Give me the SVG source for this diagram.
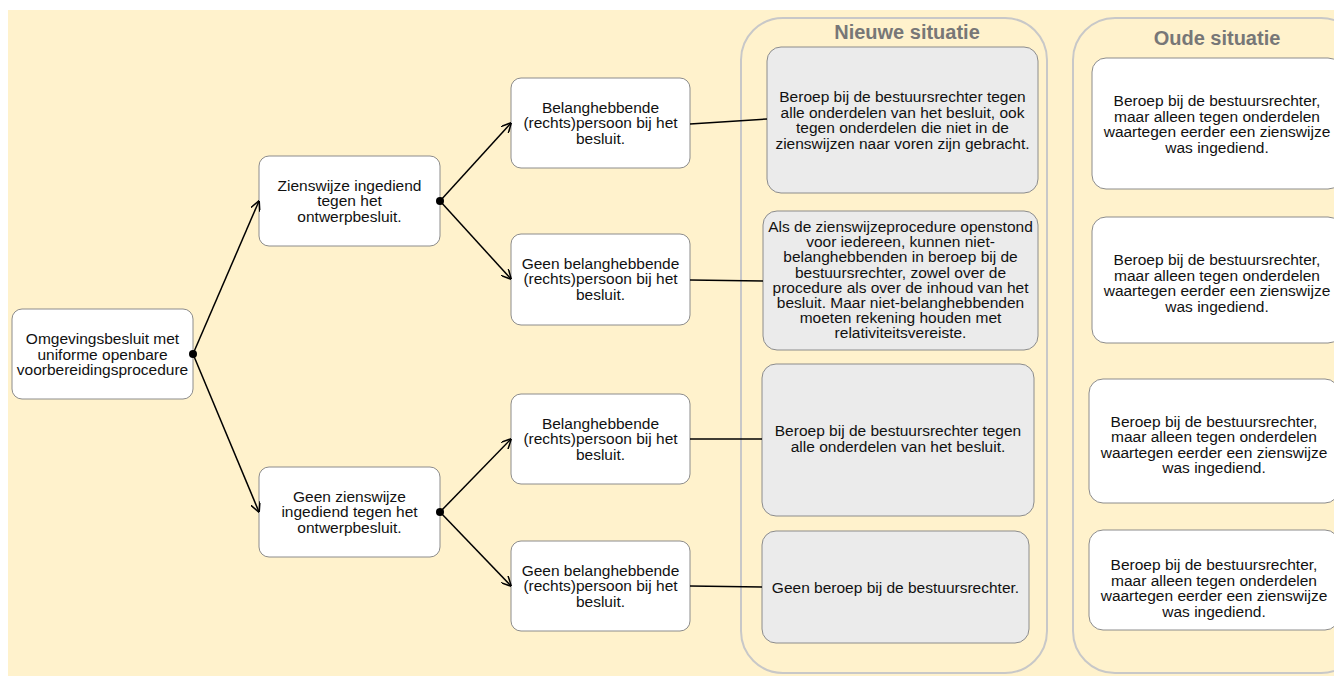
<svg xmlns="http://www.w3.org/2000/svg" width="1334" height="676" viewBox="0 0 1334 676">
<defs>
<style>
.node{fill:#ffffff;stroke:#8c8c8c;stroke-width:1}
.gray{fill:#ebebeb;stroke:#8c8c8c;stroke-width:1}
.cont{fill:none;stroke:#c8c8c8;stroke-width:2}
text{font-family:"Liberation Sans",Arial,sans-serif;font-size:15.5px;fill:#111111;text-anchor:middle}
.title{font-size:20px;font-weight:bold;fill:#777777}
.conn{stroke:#000000;stroke-width:1.5;fill:none}
</style>
<marker id="arr" viewBox="0 0 10 10" refX="9.5" refY="5" markerWidth="10" markerHeight="10" markerUnits="userSpaceOnUse" orient="auto">
<path d="M0,0 L10,5 L0,10" fill="none" stroke="#000" stroke-width="1.5"/>
</marker>
</defs>
<rect x="8" y="10" width="1326" height="666" fill="#fff2cc"/>

<g id="container-nieuw">
<rect class="cont" x="741" y="18" width="306" height="655" rx="42"/>
<text class="title" x="907" y="39">Nieuwe situatie</text>
</g>
<g id="container-oud">
<rect class="cont" x="1073" y="18" width="290" height="655" rx="42"/>
<text class="title" x="1217" y="45">Oude situatie</text>
</g>

<g id="root">
<rect class="node" x="12" y="309" width="181" height="90" rx="10"/>
<text x="102.5" y="344">Omgevingsbesluit met</text>
<text x="102.5" y="359.5">uniforme openbare</text>
<text x="102.5" y="375">voorbereidingsprocedure</text>
</g>

<g id="zienswijze">
<rect class="node" x="259" y="156" width="181" height="90" rx="10"/>
<text x="349.5" y="190.5">Zienswijze ingediend</text>
<text x="349.5" y="206">tegen het</text>
<text x="349.5" y="221.5">ontwerpbesluit.</text>
</g>

<g id="geen-zienswijze">
<rect class="node" x="259" y="467" width="181" height="90" rx="10"/>
<text x="349.5" y="501.5">Geen zienswijze</text>
<text x="349.5" y="517">ingediend tegen het</text>
<text x="349.5" y="532.5">ontwerpbesluit.</text>
</g>

<g id="belang-1">
<rect class="node" x="511" y="78" width="179" height="90" rx="10"/>
<text x="600.5" y="112.5">Belanghebbende</text>
<text x="600.5" y="128">(rechts)persoon bij het</text>
<text x="600.5" y="143.5">besluit.</text>
</g>

<g id="geenbelang-1">
<rect class="node" x="511" y="234" width="179" height="91" rx="10"/>
<text x="600.5" y="268.5">Geen belanghebbende</text>
<text x="600.5" y="284">(rechts)persoon bij het</text>
<text x="600.5" y="299.5">besluit.</text>
</g>

<g id="belang-2">
<rect class="node" x="511" y="394" width="179" height="90" rx="10"/>
<text x="600.5" y="428.5">Belanghebbende</text>
<text x="600.5" y="444">(rechts)persoon bij het</text>
<text x="600.5" y="459.5">besluit.</text>
</g>

<g id="geenbelang-2">
<rect class="node" x="511" y="541" width="179" height="90" rx="10"/>
<text x="600.5" y="575.5">Geen belanghebbende</text>
<text x="600.5" y="591">(rechts)persoon bij het</text>
<text x="600.5" y="606.5">besluit.</text>
</g>

<g id="nieuw-1">
<rect class="gray" x="767" y="47" width="271" height="146" rx="14"/>
<text x="902.5" y="102">Beroep bij de bestuursrechter tegen</text>
<text x="902.5" y="117.5">alle onderdelen van het besluit, ook</text>
<text x="902.5" y="133">tegen onderdelen die niet in de</text>
<text x="902.5" y="148.5">zienswijzen naar voren zijn gebracht.</text>
</g>

<g id="nieuw-2">
<rect class="gray" x="763" y="211" width="275" height="139" rx="14"/>
<text x="900.5" y="232">Als de zienswijzeprocedure openstond</text>
<text x="900.5" y="247.2">voor iedereen, kunnen niet-</text>
<text x="900.5" y="262.4">belanghebbenden in beroep bij de</text>
<text x="900.5" y="277.6">bestuursrechter, zowel over de</text>
<text x="900.5" y="292.8">procedure als over de inhoud van het</text>
<text x="900.5" y="308">besluit. Maar niet-belanghebbenden</text>
<text x="900.5" y="323.2">moeten rekening houden met</text>
<text x="900.5" y="338.4">relativiteitsvereiste.</text>
</g>

<g id="nieuw-3">
<rect class="gray" x="762" y="364" width="272" height="152" rx="14"/>
<text x="898" y="436">Beroep bij de bestuursrechter tegen</text>
<text x="898" y="451.5">alle onderdelen van het besluit.</text>
</g>

<g id="nieuw-4">
<rect class="gray" x="762" y="531" width="267" height="112" rx="14"/>
<text x="895.5" y="592.5">Geen beroep bij de bestuursrechter.</text>
</g>

<g id="oud-1">
<rect class="node" x="1092" y="58" width="250" height="131" rx="14"/>
<text x="1217" y="106">Beroep bij de bestuursrechter,</text>
<text x="1217" y="121.5">maar alleen tegen onderdelen</text>
<text x="1217" y="137">waartegen eerder een zienswijze</text>
<text x="1217" y="152.5">was ingediend.</text>
</g>

<g id="oud-2">
<rect class="node" x="1092" y="217" width="250" height="126" rx="14"/>
<text x="1217" y="265">Beroep bij de bestuursrechter,</text>
<text x="1217" y="280.5">maar alleen tegen onderdelen</text>
<text x="1217" y="296">waartegen eerder een zienswijze</text>
<text x="1217" y="311.5">was ingediend.</text>
</g>

<g id="oud-3">
<rect class="node" x="1089" y="379" width="250" height="124" rx="14"/>
<text x="1214" y="426.5">Beroep bij de bestuursrechter,</text>
<text x="1214" y="442">maar alleen tegen onderdelen</text>
<text x="1214" y="457.5">waartegen eerder een zienswijze</text>
<text x="1214" y="473">was ingediend.</text>
</g>

<g id="oud-4">
<rect class="node" x="1089" y="530" width="250" height="100" rx="14"/>
<text x="1214" y="570">Beroep bij de bestuursrechter,</text>
<text x="1214" y="585.5">maar alleen tegen onderdelen</text>
<text x="1214" y="601">waartegen eerder een zienswijze</text>
<text x="1214" y="616.5">was ingediend.</text>
</g>

<g id="connectors">
<line class="conn" x1="193" y1="354" x2="259" y2="201" marker-end="url(#arr)"/>
<line class="conn" x1="193" y1="354" x2="259" y2="512" marker-end="url(#arr)"/>
<line class="conn" x1="440" y1="201" x2="511" y2="123" marker-end="url(#arr)"/>
<line class="conn" x1="440" y1="201" x2="511" y2="279" marker-end="url(#arr)"/>
<line class="conn" x1="440" y1="512" x2="511" y2="439" marker-end="url(#arr)"/>
<line class="conn" x1="440" y1="512" x2="511" y2="586" marker-end="url(#arr)"/>
<line class="conn" x1="690" y1="124" x2="767" y2="119"/>
<line class="conn" x1="690" y1="280" x2="763" y2="281"/>
<line class="conn" x1="690" y1="439" x2="762" y2="439"/>
<line class="conn" x1="690" y1="586" x2="762" y2="587"/>
<circle cx="193" cy="354" r="4" fill="#000"/>
<circle cx="440" cy="201" r="4" fill="#000"/>
<circle cx="440" cy="512" r="4" fill="#000"/>
</g>
</svg>
